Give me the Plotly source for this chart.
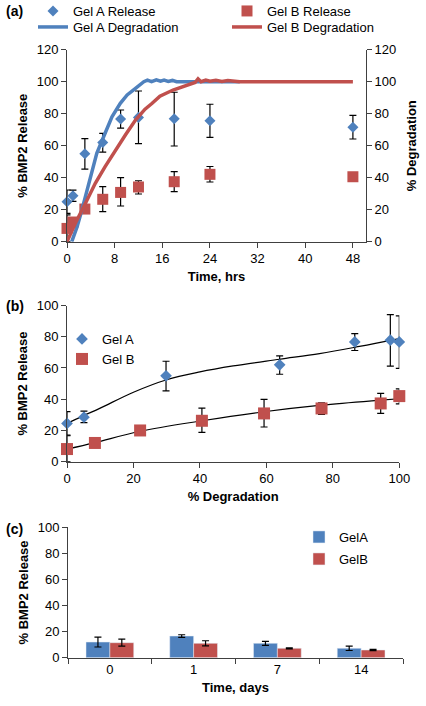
import plotly.graph_objects as go

# ---------------- Panel (a) data ----------------
time_hrs = [0, 1, 3, 6, 9, 12, 18, 24, 48]
gelA_release = [25, 28.7, 55, 62, 76.7, 77.7, 76.9, 75.6, 71.5]
gelA_err_plus = [7.3, 3.5, 9.4, 5.7, 5.6, 16.5, 16.5, 10.3, 7.5]
gelA_err_minus = [7.3, 3.5, 9.6, 6.0, 5.7, 16.4, 17.1, 10.4, 7.3]
gelB_release = [8.3, 12.3, 20.4, 26.5, 30.8, 34.2, 37.5, 42.1, 40.6]
gelB_err_plus = [8.5, 0, 0, 7.9, 9.2, 3.9, 6.3, 4.9, 0]
gelB_err_minus = [8.3, 0, 0, 7.7, 8.5, 4.4, 6.2, 4.8, 0]

gelA_deg_t = [0.8, 1.7, 2.5, 3.4, 4.2, 5.0, 6.15, 7.55, 8.95, 10.1, 11.5, 12.9,
              13.5, 14.2, 15.0, 15.7, 16.3, 17.0, 17.7, 18.4, 29]
gelA_deg = [0, 9.4, 19.8, 32.3, 44.8, 55.2, 65.6, 78, 86.5, 91.7, 95.8, 100,
            101, 100, 101.2, 100.3, 101, 100.2, 100.8, 100, 100]
gelB_deg_t = [0, 1.4, 3.1, 4.75, 6.4, 8.1, 9.8, 11.5, 13.1, 14.3, 15.6, 17.8,
              20.1, 21.5, 22.0, 22.5, 23.3, 24.0, 25.0, 26.0, 27.0, 28.0, 29.0, 48]
gelB_deg = [0, 11.5, 24, 36.5, 46.9, 57.3, 66.7, 76, 82.8, 86.5, 91, 94.8,
            97.9, 99.5, 101.8, 100, 101, 100.3, 100.9, 100.2, 100.8, 100.3, 100, 100]

# ---------------- Panel (b) data ----------------
b_gelA_deg = [0, 5.1, 29.8, 64, 86.6, 97.3, 100]
b_gelA_rel = [24.5, 28.5, 55, 62, 76.7, 77.8, 76.7]
b_gelA_err_plus = [7.5, 3.9, 9.3, 5.7, 5.3, 16.4, 16.6]
b_gelA_err_minus = [7.5, 3.5, 9.6, 6.0, 5.5, 16.6, 17.0]
b_gelB_deg = [0, 8.4, 22, 40.6, 59.3, 76.6, 94.4, 100]
b_gelB_rel = [8.1, 12, 20, 26.2, 30.9, 34.1, 37.3, 42]
b_gelB_err_plus = [8.5, 0, 0, 8.1, 9.0, 3.6, 6.4, 4.6]
b_gelB_err_minus = [8.1, 0, 0, 7.4, 8.7, 3.8, 6.4, 5.0]

trendA_x = [0, 5, 10, 20, 30, 40, 50, 64, 76, 88, 100]
trendA_y = [24.5, 29.5, 34.3, 44.5, 52.5, 57.5, 61.3, 65.6, 69.2, 73.8, 78.8]
trendB_x = [0, 8.4, 22, 40.6, 59.3, 76.6, 94.4, 100]
trendB_y = [8, 12.2, 19.5, 26.2, 32, 36.2, 39.4, 40.3]

# ---------------- Panel (c) data ----------------
days = ["0", "1", "7", "14"]
c_gelA = [12, 16.6, 11, 7.2]
c_gelA_err = [3.8, 1.0, 1.5, 1.7]
c_gelB = [11.5, 11, 7.2, 5.9]
c_gelB_err = [2.7, 2.0, 0.4, 0.5]

BLUE = "#4F81BD"
RED = "#C0504D"
AXC = "#404040"
FONT = "Liberation Sans, Arial, sans-serif"

W, H = 426, 706
def px(x):
    return x / W
def py(y):
    return 1 - y / H

fig = go.Figure()

err_style = dict(color="black", thickness=1.2, width=3.5)

# Panel (a): lines first
fig.add_trace(go.Scatter(x=gelA_deg_t, y=gelA_deg, mode="lines", name="Gel A Degradation",
                         line=dict(color=BLUE, width=3.5), xaxis="x", yaxis="y2",
                         legend="legend3"))
fig.add_trace(go.Scatter(x=gelB_deg_t, y=gelB_deg, mode="lines", name="Gel B Degradation",
                         line=dict(color=RED, width=3.5), xaxis="x", yaxis="y2",
                         legend="legend4"))
fig.add_trace(go.Scatter(x=time_hrs, y=gelA_release, mode="markers", name="Gel A Release",
                         marker=dict(symbol="diamond", size=8.5, color=BLUE), cliponaxis=False,
                         error_y=dict(type="data", symmetric=False, array=gelA_err_plus,
                                      arrayminus=gelA_err_minus, **err_style),
                         xaxis="x", yaxis="y", legend="legend"))
fig.add_trace(go.Scatter(x=time_hrs, y=gelB_release, mode="markers", name="Gel B Release",
                         marker=dict(symbol="square", size=11, color=RED), cliponaxis=False,
                         error_y=dict(type="data", symmetric=False, array=gelB_err_plus,
                                      arrayminus=gelB_err_minus, **err_style),
                         xaxis="x", yaxis="y", legend="legend2"))

# Panel (b)
fig.add_trace(go.Scatter(x=trendA_x, y=trendA_y, mode="lines",
                         line=dict(color="black", width=1.2, shape="spline", smoothing=1),
                         showlegend=False, xaxis="x2", yaxis="y3"))
fig.add_trace(go.Scatter(x=trendB_x, y=trendB_y, mode="lines",
                         line=dict(color="black", width=1.2, shape="spline", smoothing=1),
                         showlegend=False, xaxis="x2", yaxis="y3"))
fig.add_trace(go.Scatter(x=b_gelA_deg, y=b_gelA_rel, mode="markers", name="Gel A",
                         marker=dict(symbol="diamond", size=9, color=BLUE), cliponaxis=False,
                         error_y=dict(type="data", symmetric=False, array=b_gelA_err_plus,
                                      arrayminus=b_gelA_err_minus, **err_style),
                         xaxis="x2", yaxis="y3", legend="legend5"))
fig.add_trace(go.Scatter(x=b_gelB_deg, y=b_gelB_rel, mode="markers", name="Gel B",
                         marker=dict(symbol="square", size=12, color=RED), cliponaxis=False,
                         error_y=dict(type="data", symmetric=False, array=b_gelB_err_plus,
                                      arrayminus=b_gelB_err_minus, **err_style),
                         xaxis="x2", yaxis="y3", legend="legend6"))

# Panel (c)
fig.add_trace(go.Bar(x=days, y=c_gelA, name="GelA", marker=dict(color=BLUE),
                     error_y=dict(type="data", array=c_gelA_err, **err_style),
                     xaxis="x3", yaxis="y4", legend="legend7"))
fig.add_trace(go.Bar(x=days, y=c_gelB, name="GelB", marker=dict(color=RED),
                     error_y=dict(type="data", array=c_gelB_err, **err_style),
                     xaxis="x3", yaxis="y4", legend="legend8"))

tickfont = dict(family=FONT, size=13, color="black")
titlefont = dict(family=FONT, size=13, color="black", weight="bold")
axis_common = dict(showline=True, linecolor=AXC, linewidth=1, ticks="outside", ticklen=5,
                   tickcolor=AXC, tickwidth=1, showgrid=False, zeroline=False,
                   tickfont=tickfont, title_font=titlefont)

def leg(x, y):
    return dict(x=px(x), y=py(y), xanchor="left", yanchor="middle", bgcolor="rgba(0,0,0,0)",
                font=dict(family=FONT, size=13, color="black"), borderwidth=0)

fig.update_layout(
    width=W, height=H, margin=dict(l=0, r=0, t=0, b=0, autoexpand=False),
    paper_bgcolor="white", plot_bgcolor="white",
    font=dict(family=FONT, size=13, color="black"),
    barmode="group", bargap=0.43, bargroupgap=0,
    xaxis=dict(domain=[px(67), px(366)], range=[0, 50.2], tickvals=[0, 8, 16, 24, 32, 40, 48],
               anchor="y", title=dict(text="Time, hrs", standoff=6), **axis_common),
    yaxis=dict(domain=[py(241.7), py(49.7)], range=[0, 120], dtick=20, anchor="x",
               title=dict(text="% BMP2 Release", standoff=6), **axis_common),
    yaxis2=dict(domain=[py(241.7), py(49.7)], range=[0, 120], dtick=20, anchor="x",
                overlaying="y", side="right",
                title=dict(text="% Degradation", standoff=11), **axis_common),
    xaxis2=dict(domain=[px(67), px(399.3)], range=[0, 100], dtick=20, anchor="y3",
                title=dict(text="% Degradation", standoff=6), **axis_common),
    yaxis3=dict(domain=[py(461.7), py(305.5)], range=[0, 100], dtick=20, anchor="x2",
                title=dict(text="% BMP2 Release", standoff=6), **axis_common),
    xaxis3=dict(domain=[px(68), px(403)], type="category", tickson="boundaries", anchor="y4",
                title=dict(text="Time, days", standoff=6), **axis_common),
    yaxis4=dict(domain=[py(657.7), py(527.2)], range=[0, 100], dtick=20, anchor="x3",
                title=dict(text="% BMP2 Release", standoff=6), **axis_common),
    legend=leg(33, 11), legend2=leg(227, 11), legend3=leg(33, 27), legend4=leg(227, 27),
    legend5=leg(62, 339), legend6=leg(62, 359),
    legend7=leg(299, 537), legend8=leg(299, 559),
    annotations=[
        dict(text="<b>(a)</b>", x=px(4), y=py(11), xref="paper", yref="paper", xanchor="left",
             yanchor="middle", showarrow=False, font=dict(family=FONT, size=14, color="black")),
        dict(text="<b>(b)</b>", x=px(4), y=py(306), xref="paper", yref="paper", xanchor="left",
             yanchor="middle", showarrow=False, font=dict(family=FONT, size=14, color="black")),
        dict(text="<b>(c)</b>", x=px(4), y=py(529), xref="paper", yref="paper", xanchor="left",
             yanchor="middle", showarrow=False, font=dict(family=FONT, size=14, color="black")),
    ],
)

fig.write_html("out.html", config={"displayModeBar": False},
               post_script="document.body.style.margin='0';document.body.style.overflow='hidden';")
